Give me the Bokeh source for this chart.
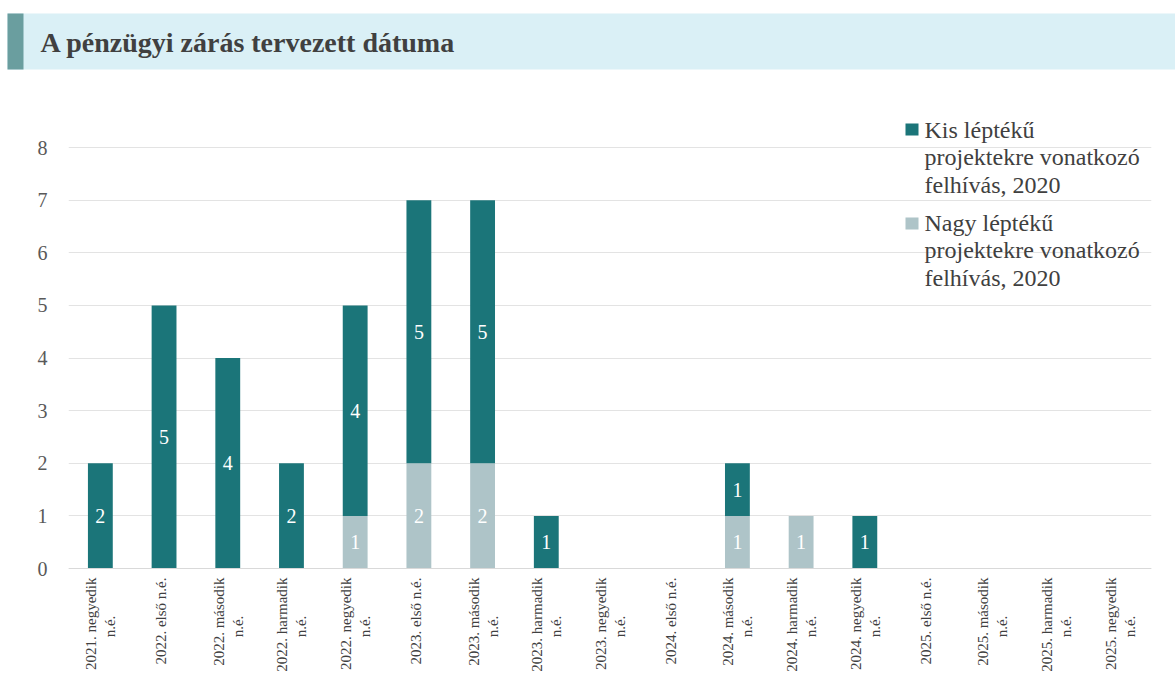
import math
from bokeh.plotting import figure
from bokeh.models import (ColumnDataSource, FactorRange, Range1d, Span, Label, BoxAnnotation)
from bokeh.layouts import column
from bokeh.embed import file_html
from bokeh.resources import INLINE
from bokeh.core.properties import value

title_text = "A pénzügyi zárás tervezett dátuma"

categories = [
    "2021. negyedik n.é.", "2022. első n.é.", "2022. második n.é.", "2022. harmadik n.é.",
    "2022. negyedik n.é.", "2023. első n.é.", "2023. második n.é.", "2023. harmadik n.é.",
    "2023. negyedik n.é.", "2024. első n.é.", "2024. második n.é.", "2024. harmadik n.é.",
    "2024. negyedik n.é.", "2025. első n.é.", "2025. második n.é.", "2025. harmadik n.é.",
    "2025. negyedik n.é.",
]
tick_line1 = [
    "2021. negyedik", "2022. első n.é.", "2022. második", "2022. harmadik",
    "2022. negyedik", "2023. első n.é.", "2023. második", "2023. harmadik",
    "2023. negyedik", "2024. első n.é.", "2024. második", "2024. harmadik",
    "2024. negyedik", "2025. első n.é.", "2025. második", "2025. harmadik",
    "2025. negyedik",
]
tick_line2 = [
    "n.é.", "", "n.é.", "n.é.", "n.é.", "", "n.é.", "n.é.", "n.é.", "",
    "n.é.", "n.é.", "n.é.", "", "n.é.", "n.é.", "n.é.",
]
series_names = [
    "Kis léptékű\nprojektekre vonatkozó\nfelhívás, 2020",
    "Nagy léptékű\nprojektekre vonatkozó\nfelhívás, 2020",
]
kis = [2, 5, 4, 2, 4, 5, 5, 1, 0, 0, 1, 0, 1, 0, 0, 0, 0]
nagy = [0, 0, 0, 0, 1, 2, 2, 0, 0, 0, 1, 1, 0, 0, 0, 0, 0]
y_ticks = [0, 1, 2, 3, 4, 5, 6, 7, 8]

DARK = "#1B7579"
LIGHT = "#AEC4C8"
FONT = "Liberation Serif"
TXT = "#404040"
W = 1175

# ---- title band ----
tf = figure(width=W, height=70, x_range=Range1d(0, W), y_range=Range1d(0, 70),
            output_backend="svg", toolbar_location=None, x_axis_type=None, y_axis_type=None,
            min_border=0, outline_line_color=None)
tf.frame_align = False
tf.grid.visible = False
tf.quad(left=[7], right=[W], bottom=[1], top=[57], fill_color="#DAF0F6", line_color=None)
tf.quad(left=[7], right=[23], bottom=[1], top=[57], fill_color="#6A9E9F", line_color=None)
tf.text(x=[40], y=[28], text=[title_text], text_font=value(FONT), text_font_style="bold",
        text_font_size="28px", text_color=TXT, text_baseline="middle")

# ---- main chart ----
# frame: y=0 at 568 px, y=8 at 147 px (page); frame spans page y 100..677
PX = (568 - 147) / 8.0
y_lo = -(677 - 568) / PX
y_hi = (568 - 100) / PX

src = ColumnDataSource(dict(cat=categories, kis=kis, nagy=nagy))
p = figure(width=W, height=607, x_range=FactorRange(*categories, range_padding=0),
           y_range=Range1d(y_lo, y_hi), output_backend="svg", toolbar_location=None,
           x_axis_location=None,
           min_border_left=68, min_border_right=24, min_border_top=30, min_border_bottom=0,
           outline_line_color=None)
p.frame_align = False
rs = p.vbar_stack(["nagy", "kis"], x="cat", width=0.39, source=src,
                  color=[LIGHT, DARK], line_color=None)

lx, ly, lt = [], [], []
for c, n, k in zip(categories, nagy, kis):
    if n > 0:
        lx.append(c); ly.append(n / 2); lt.append(str(n))
    if k > 0:
        lx.append(c); ly.append(n + k / 2); lt.append(str(k))
p.text(x=lx, y=ly, text=lt, text_color="white", text_font=value(FONT), text_font_size="20px",
       text_align="center", text_baseline="middle")

p.xgrid.visible = False
p.ygrid.grid_line_color = "#E3E3E3"
p.ygrid.ticker = y_ticks
p.yaxis.ticker = y_ticks
p.yaxis.axis_line_color = None
p.yaxis.major_tick_line_color = None
p.yaxis.minor_tick_line_color = None
p.yaxis.major_label_text_font = FONT
p.yaxis.major_label_text_font_size = "20px"
p.yaxis.major_label_text_color = "#595959"
p.yaxis.major_label_standoff = 15

p.add_layout(Span(location=0, dimension="width", line_color="#D9D9D9", line_width=1))

# rotated category labels (one or two lines)
two = [i for i, t in enumerate(tick_line2) if t]
one = [i for i, t in enumerate(tick_line2) if not t]
lab = dict(angle=math.pi / 2, text_font=value(FONT), text_font_size="15px",
           text_color=TXT, text_baseline="middle")
p.text(x=[categories[i] for i in two], y=[0] * len(two), text=[tick_line1[i] for i in two],
       x_offset=-9, y_offset=9, text_align="right", **lab)
p.text(x=[categories[i] for i in two], y=[0] * len(two), text=[tick_line2[i] for i in two],
       x_offset=10, y_offset=58, text_align="center", **lab)
p.text(x=[categories[i] for i in one], y=[0] * len(one), text=[tick_line1[i] for i in one],
       x_offset=-3, y_offset=9, text_align="right", **lab)

# legend (frame-relative screen units)
fl, fb = 68, 677
colors = [DARK, LIGHT]
sq_tops = [123, 217]
mid_tops = [129, 222]
for name, col, sq, mt in zip(series_names, colors, sq_tops, mid_tops):
    p.add_layout(BoxAnnotation(left=905 - fl, right=918 - fl, top=fb - sq, bottom=fb - sq - 12,
                               left_units="screen", right_units="screen",
                               top_units="screen", bottom_units="screen",
                               fill_color=col, fill_alpha=1, line_color=None))
    for j, line in enumerate(name.split("\n")):
        p.add_layout(Label(x=924 - fl, y=fb - mt - j * 27.5, x_units="screen", y_units="screen",
                           text=line, text_font=FONT, text_font_size="24px",
                           text_color=TXT, text_baseline="middle"))

layout = column(tf, p, spacing=0)
open("out.html", "w").write(file_html(layout, INLINE))
